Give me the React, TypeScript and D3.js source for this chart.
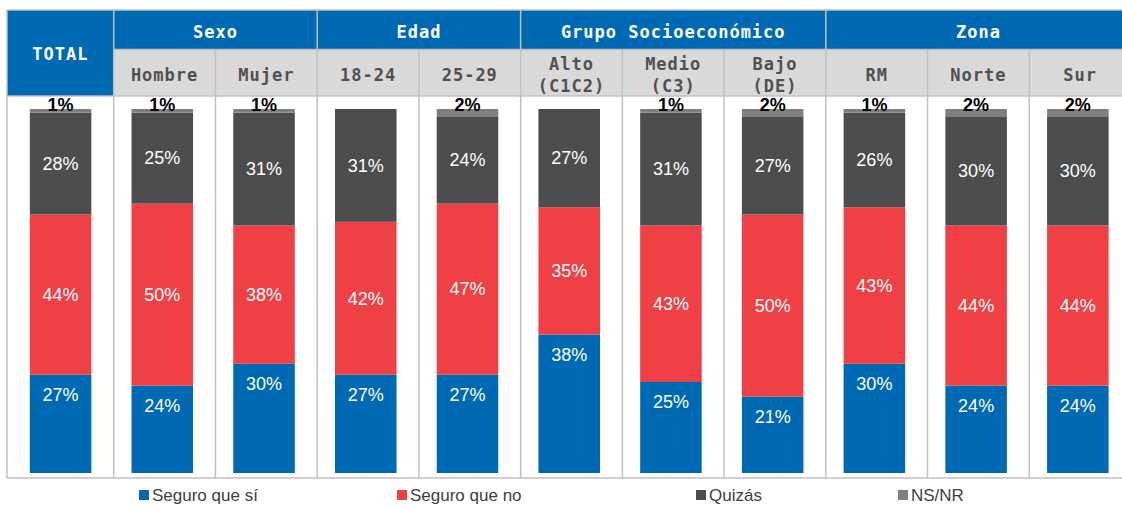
import React from 'react'
import * as d3 from 'd3'

// columnas del gráfico
const categories = ['TOTAL', 'Hombre', 'Mujer', '18-24', '25-29', 'Alto (C1C2)', 'Medio (C3)', 'Bajo (DE)', 'RM', 'Norte', 'Sur']
const subLabels = [['TOTAL'], ['Hombre'], ['Mujer'], ['18-24'], ['25-29'], ['Alto', '(C1C2)'], ['Medio', '(C3)'], ['Bajo', '(DE)'], ['RM'], ['Norte'], ['Sur']]
const groupNames = ['Sexo', 'Edad', 'Grupo Socioeconómico', 'Zona']
const groupSpans = [[1, 2], [3, 4], [5, 7], [8, 10]]

// porcentajes por serie
const seguroSi = [27, 24, 30, 27, 27, 38, 25, 21, 30, 24, 24]
const seguroNo = [44, 50, 38, 42, 47, 35, 43, 50, 43, 44, 44]
const quizas = [28, 25, 31, 31, 24, 27, 31, 27, 26, 30, 30]
const nsnr = [1, 1, 1, 0, 2, 0, 1, 2, 1, 2, 2]

const seriesNames = ['Seguro que sí', 'Seguro que no', 'Quizás', 'NS/NR']
const seriesColors = ['#0069B4', '#EF4046', '#4D4D4D', '#7F7F7F']

const W = 1122
const H = 506
const gridColor = '#C0C0C0'
const monoFont = '"DejaVu Sans Mono", monospace'
const sansFont = '"Liberation Sans", Arial, sans-serif'

export default function App() {
  const rows = categories.map((c, i) => ({
    cat: c,
    s0: seguroSi[i],
    s1: seguroNo[i],
    s2: quizas[i],
    s3: nsnr[i]
  }))
  const keys = ['s0', 's1', 's2', 's3']
  const stacked = d3.stack<any>().keys(keys)(rows)

  const x = d3.scaleBand().domain(categories).range([12, 1131]).paddingInner(0)
  const bw = x.bandwidth()
  const y = d3.scaleLinear().domain([0, 100]).range([473, 109])

  const tableLeft = 7
  const tableTop = 10
  const midLine = 49.5
  const headBottom = 96
  const tableBottom = 478

  const barX = (c: string) => x(c)! + bw * 0.175
  const barW = bw * 0.605

  const colLeft = (i: number) => (i === 0 ? tableLeft : x(categories[i])!)
  const colRight = (i: number) => x(categories[i])! + bw

  const legendX = [139, 397, 696, 898]

  // el azul lleva la etiqueta arriba del segmento, el resto al centro
  const labelY = (si: number, d: number[]) =>
    si === 0 ? y(d[1]) + 20 : (y(d[0]) + y(d[1])) / 2

  return (
    <svg width={W} height={H} style={{ position: 'absolute', left: 0, top: 0, background: '#fff' }}>
      {/* barras */}
      {stacked.map((layer, si) => (
        <g key={si}>
          {layer.map((d, i) => {
            const c = categories[i]
            const v = d[1] - d[0]
            if (v <= 0) return null
            return (
              <rect
                key={c}
                x={barX(c)}
                y={y(d[1])}
                width={barW}
                height={y(d[0]) - y(d[1])}
                fill={seriesColors[si]}
              />
            )
          })}
        </g>
      ))}

      {/* etiquetas de valor */}
      {stacked.slice(0, 3).map((layer, si) => (
        <g key={'l' + si}>
          {layer.map((d, i) => {
            const c = categories[i]
            return (
              <text
                key={c}
                x={barX(c) + barW / 2}
                y={labelY(si, d)}
                dy="0.35em"
                textAnchor="middle"
                fill="#fff"
                fontFamily={sansFont}
                fontSize={18}
              >
                {d[1] - d[0]}%
              </text>
            )
          })}
        </g>
      ))}
      {stacked[3].map((d, i) => {
        const c = categories[i]
        if (d[1] - d[0] <= 0) return null
        return (
          <text
            key={'ns' + c}
            x={barX(c) + barW / 2}
            y={y(100) + 1.5}
            textAnchor="middle"
            fill="#000"
            fontFamily={sansFont}
            fontWeight="bold"
            fontSize={18}
          >
            {d[1] - d[0]}%
          </text>
        )
      })}

      {/* cabecera */}
      <rect x={tableLeft} y={tableTop} width={W} height={midLine - tableTop} fill="#0069B4" />
      <rect x={x(categories[1])} y={midLine} width={W} height={headBottom - midLine} fill="#D9D9D9" />
      <rect x={tableLeft} y={tableTop} width={colRight(0) - tableLeft} height={headBottom - tableTop} fill="#0069B4" />

      <text
        x={(tableLeft + colRight(0)) / 2}
        y={(tableTop + headBottom) / 2 + 1.5}
        dy="0.35em"
        textAnchor="middle"
        fill="#fff"
        fontFamily={monoFont}
        fontWeight="bold"
        fontSize={17}
        letterSpacing={1}
      >
        TOTAL
      </text>

      {groupNames.map((g, gi) => {
        const [a, b] = groupSpans[gi]
        const cx = (colLeft(a) + colRight(b)) / 2
        return (
          <text
            key={g}
            x={cx}
            y={(tableTop + midLine) / 2 + 2.5}
            dy="0.35em"
            textAnchor="middle"
            fill="#fff"
            fontFamily={monoFont}
            fontWeight="bold"
            fontSize={17}
            letterSpacing={1}
          >
            {g}
          </text>
        )
      })}

      {subLabels.slice(1).map((lines, k) => {
        const i = k + 1
        const cx = (colLeft(i) + colRight(i)) / 2
        const mid = (midLine + headBottom) / 2 + 2
        return (
          <text
            key={'s' + i}
            textAnchor="middle"
            fill="#505050"
            fontFamily={monoFont}
            fontWeight="bold"
            fontSize={17}
            letterSpacing={1}
          >
            {lines.map((t, li) => (
              <tspan key={li} x={cx} y={lines.length === 1 ? mid : mid - 11 + li * 22} dy="0.35em">
                {t}
              </tspan>
            ))}
          </text>
        )
      })}

      {/* líneas de la tabla */}
      <g stroke={gridColor} strokeWidth={1.5} fill="none">
        <line x1={tableLeft} x2={W} y1={tableTop} y2={tableTop} />
        <line x1={colLeft(1)} x2={W} y1={midLine} y2={midLine} />
        <line x1={tableLeft} x2={W} y1={headBottom} y2={headBottom} />
        <line x1={tableLeft} x2={W} y1={tableBottom} y2={tableBottom} />
        <line x1={tableLeft} x2={tableLeft} y1={tableTop} y2={tableBottom} />
        {categories.slice(1).map((c, k) => {
          const i = k + 1
          const isGroupStart = groupSpans.some((s) => s[0] === i)
          return (
            <line key={c} x1={x(c)} x2={x(c)} y1={isGroupStart ? tableTop : midLine} y2={tableBottom} />
          )
        })}
      </g>

      {/* leyenda */}
      {seriesNames.map((n, i) => (
        <g key={n}>
          <rect x={legendX[i]} y={490} width={10} height={10} fill={seriesColors[i]} />
          <text
            x={legendX[i] + 13}
            y={495}
            dy="0.35em"
            fill="#404040"
            fontFamily={sansFont}
            fontSize={17}
          >
            {n}
          </text>
        </g>
      ))}
    </svg>
  )
}
